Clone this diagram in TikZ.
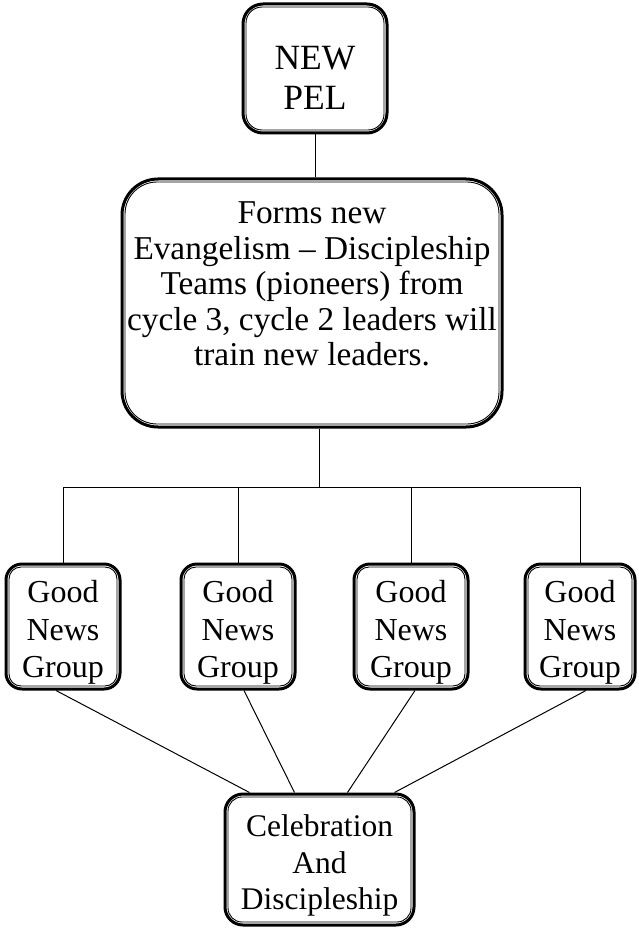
\documentclass[tikz,border=0pt]{standalone}
\usepackage{fontspec}
\setmainfont{Liberation Serif}
\usetikzlibrary{calc}

\tikzset{
  frame/.style={draw, line width=3pt, rectangle, inner sep=0pt},
  label text/.style={align=center, inner sep=0pt},
  link/.style={line width=1pt},
}

% thin inner line of a double frame
\newcommand{\innerframe}[2]{%
  \draw[line width=0.9pt, rounded corners=#2]
    ([shift={(4.5pt,4.5pt)}]#1.south west) rectangle ([shift={(-4.5pt,-4.5pt)}]#1.north east);}

\begin{document}
\begin{tikzpicture}[x=1pt, y=1pt]
  \useasboundingbox (0,0) rectangle (638,-928);

  % boxes
  \node[frame, rounded corners=20pt, minimum width=144pt, minimum height=129pt] (pel) at (315,-68.5) {};
  \node[frame, rounded corners=36pt, minimum width=380pt, minimum height=248pt] (team) at (312,-303) {};
  \node[frame, rounded corners=16pt, minimum width=114pt, minimum height=125pt] (g1) at (63,-626.5) {};
  \node[frame, rounded corners=16pt, minimum width=114pt, minimum height=125pt] (g2) at (238,-626.5) {};
  \node[frame, rounded corners=16pt, minimum width=114pt, minimum height=125pt] (g3) at (411,-626.5) {};
  \node[frame, rounded corners=16pt, minimum width=110pt, minimum height=125pt] (g4) at (580,-626.5) {};
  \node[frame, rounded corners=18pt, minimum width=189pt, minimum height=131pt] (cel) at (319.5,-859.5) {};

  \innerframe{pel}{16pt}
  \innerframe{team}{32pt}
  \innerframe{g1}{12pt}
  \innerframe{g2}{12pt}
  \innerframe{g3}{12pt}
  \innerframe{g4}{12pt}
  \innerframe{cel}{14pt}

  % texts
  \node[label text, font=\fontsize{35.5}{40}\selectfont] (peltxt) at (315,-78) {NEW\\PEL};
  \node[label text, font=\fontsize{33.3}{35.5}\selectfont] (teamtxt) at (312,-284)
    {Forms new\\Evangelism -- Discipleship\\Teams (pioneers) from\\cycle 3, cycle 2 leaders will\\train new leaders.};
  \foreach \g in {g1,g2,g3,g4} {
    \node[label text, font=\fontsize{32}{37.5}\selectfont] (\g txt) at ([yshift=-6pt]\g.center) {Good\\News\\Group};
  }
  \node[label text, font=\fontsize{31.5}{36.5}\selectfont] (celtxt) at ([yshift=-6pt]cel.center) {Celebration\\And\\Discipleship};

  % tree connectors
  \coordinate (bus) at (319,-487);
  \draw[link] (pel.south) -- (team.north -| pel.south);
  \draw[link] (team.south -| bus) -- (bus);
  \draw[link] (g1.north) -- (g1.north |- bus) -- (g4.north |- bus) -- (g4.north);
  \draw[link] (g2.north) -- (g2.north |- bus);
  \draw[link] (g3.north) -- (g3.north |- bus);

  % converging connectors
  \draw[link] ([xshift=-7pt]g1.south) -- ([xshift=-70pt]cel.north);
  \draw[link] ([xshift=6pt]g2.south) -- ([xshift=-25pt]cel.north);
  \draw[link] ([xshift=4pt]g3.south) -- ([xshift=28pt]cel.north);
  \draw[link] ([xshift=6pt]g4.south) -- ([xshift=75pt]cel.north);
\end{tikzpicture}
\end{document}
